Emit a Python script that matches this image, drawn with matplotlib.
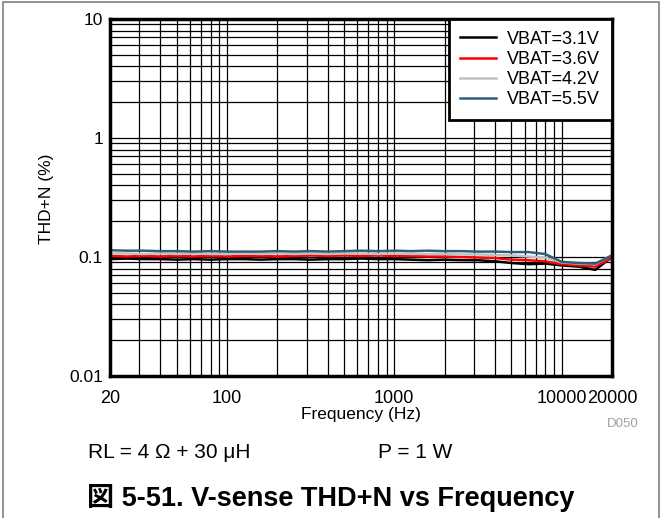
import matplotlib
matplotlib.use("Agg")
import matplotlib.pyplot as plt
from matplotlib.patches import Rectangle
from matplotlib.ticker import FixedLocator, NullFormatter, LogLocator

plt.rcParams['font.family'] = ['Liberation Sans', 'Noto Sans CJK JP', 'DejaVu Sans']

freq = [20, 25.2, 31.7, 39.9, 50.2, 63.2, 79.6, 100.2, 126, 159, 200, 252, 317, 399,
        502, 632, 796, 1002, 1262, 1589, 2000, 2518, 3170, 3991, 5024, 6325, 7962,
        10024, 12619, 15887, 20000]

vbat_31 = [0.096, 0.097, 0.096, 0.096, 0.095, 0.096, 0.095, 0.096, 0.096, 0.095, 0.096,
           0.096, 0.095, 0.096, 0.096, 0.097, 0.096, 0.096, 0.095, 0.094, 0.095, 0.094,
           0.094, 0.092, 0.089, 0.087, 0.088, 0.085, 0.083, 0.078, 0.100]
vbat_36 = [0.102, 0.101, 0.102, 0.101, 0.102, 0.101, 0.102, 0.101, 0.102, 0.102, 0.101,
           0.102, 0.103, 0.102, 0.103, 0.102, 0.103, 0.102, 0.102, 0.101, 0.101, 0.100,
           0.099, 0.098, 0.095, 0.094, 0.092, 0.087, 0.085, 0.083, 0.098]
vbat_42 = [0.107, 0.107, 0.106, 0.107, 0.106, 0.107, 0.106, 0.106, 0.107, 0.106, 0.107,
           0.106, 0.107, 0.106, 0.107, 0.107, 0.106, 0.107, 0.106, 0.106, 0.106, 0.105,
           0.105, 0.104, 0.103, 0.101, 0.099, 0.090, 0.088, 0.087, 0.104]
vbat_55 = [0.114, 0.113, 0.113, 0.112, 0.112, 0.111, 0.112, 0.111, 0.111, 0.111, 0.112,
           0.111, 0.112, 0.111, 0.112, 0.113, 0.112, 0.113, 0.112, 0.113, 0.112, 0.112,
           0.111, 0.111, 0.110, 0.110, 0.106, 0.091, 0.089, 0.088, 0.103]

series = [("VBAT=3.1V", vbat_31, "#000000"),
          ("VBAT=3.6V", vbat_36, "#ff0000"),
          ("VBAT=4.2V", vbat_42, "#c0c0c0"),
          ("VBAT=5.5V", vbat_55, "#2e5f7a")]

x_ticks = [20, 100, 1000, 10000, 20000]
x_tick_labels = ["20", "100", "1000", "10000", "20000"]
y_ticks = [0.01, 0.1, 1, 10]
y_tick_labels = ["0.01", "0.1", "1", "10"]

W, H = 662, 518
fig = plt.figure(figsize=(W/100, H/100), dpi=100)
ax = fig.add_axes([110/W, 1-376/H, (612-110)/W, (376-19)/H])

for label, vals, color in series:
    ax.plot(freq, vals, color=color, lw=1.8, label=label, zorder=3)

ax.set_xscale('log')
ax.set_yscale('log')
ax.set_xlim(20, 20000)
ax.set_ylim(0.01, 10)

ax.xaxis.set_major_locator(FixedLocator(x_ticks))
ax.set_xticklabels(x_tick_labels)
ax.xaxis.set_minor_locator(LogLocator(base=10, subs=range(2, 10), numticks=20))
ax.xaxis.set_minor_formatter(NullFormatter())
ax.yaxis.set_major_locator(FixedLocator(y_ticks))
ax.set_yticklabels(y_tick_labels)
ax.yaxis.set_minor_locator(LogLocator(base=10, subs=range(2, 10), numticks=20))
ax.yaxis.set_minor_formatter(NullFormatter())

ax.grid(True, which='both', color='black', lw=0.9)
ax.tick_params(which='both', length=0)
ax.tick_params(axis='x', pad=10, labelsize=13)
ax.tick_params(axis='y', pad=5, labelsize=12.5)
for s in ax.spines.values():
    s.set_linewidth(2.5)
    s.set_zorder(5)

ax.set_xlabel("Frequency (Hz)", fontsize=12.5, va='center')
ax.xaxis.set_label_coords(0.5, (376-415)/357)
ax.set_ylabel("THD+N (%)", fontsize=12.5, va='center')
ax.yaxis.set_label_coords((46-110)/502, 0.495)

leg = ax.legend(loc='upper right', fontsize=13, fancybox=False, framealpha=1,
                borderaxespad=0, handlelength=2.0, labelspacing=0.18,
                borderpad=0.65, handletextpad=0.6, edgecolor='black')
leg.get_frame().set_linewidth(2)
leg.set_zorder(6)

fig.text(639/W, 1-424/H, "D050", color="#a0a0a0", fontsize=9.5, ha='right', va='center')
fig.text(88/W, 1-453/H, "RL = 4 Ω + 30 μH", fontsize=15, ha='left', va='center')
fig.text(378/W, 1-453/H, "P = 1 W", fontsize=15, ha='left', va='center')
fig.text(331/W, 1-498/H, "図 5-51. V-sense THD+N vs Frequency", fontsize=19.5,
         fontweight='bold', ha='center', va='center')

fig.patches.append(Rectangle((3/W, -0.01), 656/W, 1-2/H+0.01, transform=fig.transFigure,
                             fill=False, edgecolor='#808080', lw=1.2))

fig.savefig("out.png", dpi=100)
